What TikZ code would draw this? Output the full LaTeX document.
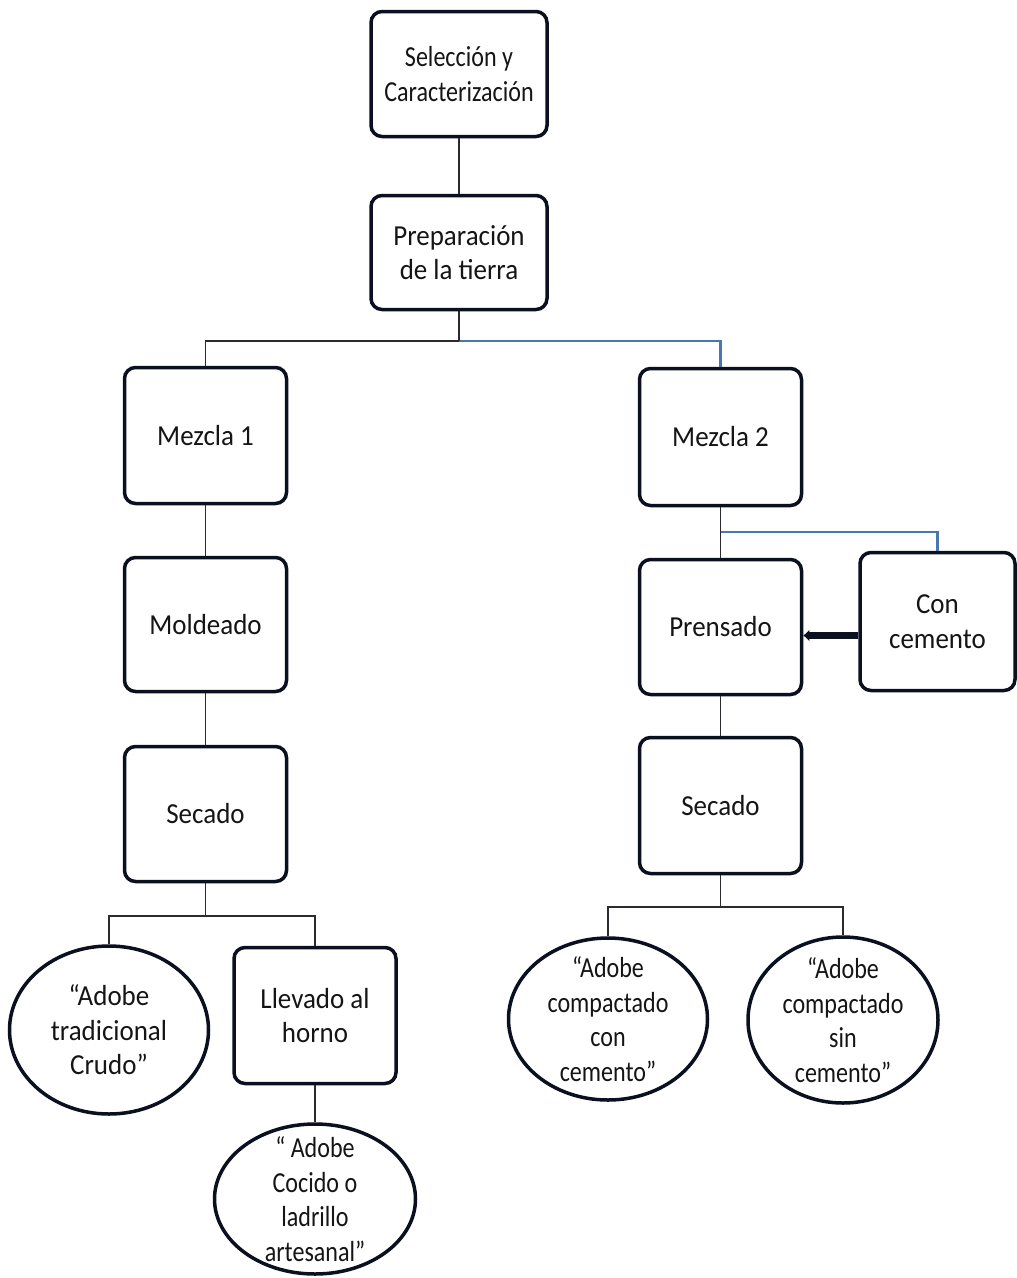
\documentclass[tikz,border=0pt]{standalone}
\usepackage{fontspec}
\setmainfont{Carlito}[FakeStretch=0.93]
\newfontfamily\narrowf{Carlito}[FakeStretch=0.83]
\usetikzlibrary{shapes.geometric,arrows.meta}
\definecolor{bord}{HTML}{0B1020}
\definecolor{conn}{HTML}{2A2A30}
\definecolor{bluel}{HTML}{4A78AE}
\definecolor{txtc}{HTML}{151515}
\tikzset{
  box/.style={draw=bord, line width=3.5pt, rounded corners=11pt, fill=white,
    text=txtc, align=center, inner sep=0pt,
    font=\fontsize{29}{34.5}\selectfont},
  ell/.style={draw=bord, line width=3.5pt, ellipse, inner sep=0pt, fill=white},
  etxt/.style={text=txtc, align=center, inner sep=0pt, font=\fontsize{29}{34.5}\selectfont},
  narrow/.style={font=\narrowf\fontsize{29}{34.5}\selectfont},
  lnk/.style={draw=conn, line width=1.6pt},
  blnk/.style={draw=bluel, line width=2.2pt},
}
\begin{document}
\begin{tikzpicture}[x=1pt,y=-1pt]
\useasboundingbox[fill=white] (0,0) rectangle (1017,1278);
% boxes
\node[box, narrow, minimum width=176pt, minimum height=125pt] (sel) at (459,74) {Selección y\\Caracterización};
\node[box, minimum width=176pt, minimum height=114pt] (prep) at (459,252.5) {Preparación\\de la tierra};
\node[box, minimum width=162pt, minimum height=136pt] (m1) at (205.5,435.5) {Mezcla 1};
\node[box, minimum width=162pt, minimum height=137pt] (m2) at (720.5,437) {Mezcla 2};
\node[box, minimum width=162pt, minimum height=134pt] (mold) at (205.5,624.5) {Moldeado};
\node[box, minimum width=162pt, minimum height=135pt] (sec1) at (205.5,814) {Secado};
\node[box, minimum width=162pt, minimum height=135pt] (pren) at (720.5,627) {Prensado};
\node[box, minimum width=155pt, minimum height=138pt] (con) at (937.5,621.5) {Con\\cemento};
\node[box, minimum width=162pt, minimum height=136pt] (sec2) at (720.5,805.5) {Secado};
\node[box, minimum width=162pt, minimum height=136pt] (llev) at (315,1015.5) {Llevado al\\horno};
% ellipses
\node[ell, minimum width=199pt, minimum height=168pt] (e1) at (109,1030) {};
\node[etxt] (t1) at (e1) {“Adobe\\tradicional\\Crudo”};
\node[ell, minimum width=201pt, minimum height=150pt] (e2) at (315,1199) {};
\node[etxt, narrow] (t2) at (e2) {“ Adobe\\Cocido o\\ladrillo\\artesanal”};
\node[ell, minimum width=199pt, minimum height=162pt] (e3) at (608,1019) {};
\node[etxt, narrow] (t3) at (e3) {“Adobe\\compactado\\con\\cemento”};
\node[ell, minimum width=190pt, minimum height=166pt] (e4) at (843,1020) {};
\node[etxt, narrow] (t4) at (e4) {“Adobe\\compactado\\sin\\cemento”};
% connectors
\draw[lnk] (sel.south) -- (prep.north);
\draw[lnk] (prep.south) -- ++(0,30) -| (m1.north);
\draw[blnk] (prep.south) ++(0,30) -| (m2.north);
\draw[lnk] (prep.south) -- ++(0,30);
\draw[lnk] (m1.south) -- (mold.north);
\draw[lnk] (mold.south) -- (sec1.north);
\draw[lnk] (m2.south) -- (pren.north);
\draw[blnk] (m2.south) ++(0,25) -| (con.north);
\draw[lnk] (pren.south) -- (sec2.north);
\draw[lnk] (sec1.south) -- ++(0,33) -| (e1.north);
\draw[lnk] (sec1.south) ++(0,33) -| (llev.north);
\draw[lnk] (llev.south) -- (e2.north);
\draw[lnk] (sec2.south) -- ++(0,32) -| (e3.north);
\draw[lnk] (sec2.south) ++(0,32) -| (e4.north);
\draw[draw=bord, line width=7pt, -{Latex[length=6pt,width=12pt]}] ([yshift=-14pt]con.west) -- ([yshift=-14pt]con.west -| pren.east);
\end{tikzpicture}
\end{document}
